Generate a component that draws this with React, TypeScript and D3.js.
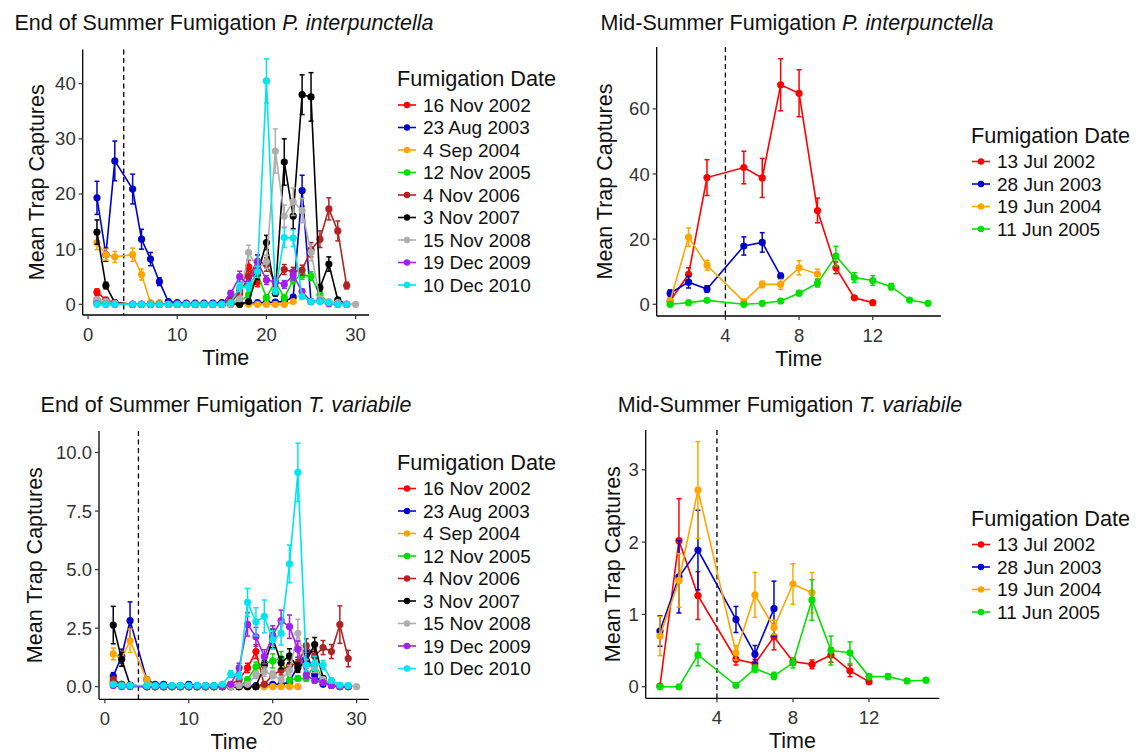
import React from "react";
import * as d3 from "d3";

// sampling times (week 4 = fumigation, no trapping)
const endTimes = [1, 2, 3, 5, 6, 7, 8, 9, 10, 11, 12, 13, 14, 15, 16, 17, 18, 19, 20, 21, 22, 23, 24, 25, 26, 27, 28, 29, 30];
const midTimes = [1, 2, 3, 5, 6, 7, 8, 9, 10, 11, 12, 13, 14, 15];

const endDates = ["16 Nov 2002", "23 Aug 2003", "4 Sep 2004", "12 Nov 2005", "4 Nov 2006", "3 Nov 2007", "15 Nov 2008", "19 Dec 2009", "10 Dec 2010"];
const midDates = ["13 Jul 2002", "28 Jun 2003", "19 Jun 2004", "11 Jun 2005"];

const endColors = ["#FF0000", "#0000CD", "#FFA500", "#00E000", "#B22222", "#000000", "#AEAEAE", "#A020F0", "#00E5EE"];
const midColors = ["#FF0000", "#0000CD", "#FFA500", "#00E000"];

// P. interpunctella, end of summer (one row per fumigation date)
const piEndMean = [
  [2.2, 0.8, 0.3, 0, 0, 0, 0, 0, 0, 0, 0, 0, 0, 0.2, 1.0, 2.5, 6.8, 4.0],
  [19.3, 9.0, 26.0, 20.9, 11.8, 8.2, 4.1, 0.5, 0.3, 0.2, 0.2, 0.2, 0.2, 0.3, 0.2, 0.1, 0.2, 0.3, 0.3, 0.4, 0.5, 1.3, 20.6, 0.5],
  [11.2, 9.0, 8.6, 9.0, 5.4, 0.3, 0.3, 0, 0, 0, 0, 0, 0, 0, 0, 0, 0, 0, 0, 0, 0, 0.5],
  [0.3, 0.1, 0.1, 0, 0, 0, 0, 0, 0, 0, 0, 0, 0, 0, 0.2, 0.5, 1.7, 5.6, 1.2, 4.1, 1.2, 4.4, 5.3, 5.1, 1.7, 0.3, 0],
  [0.8, 0.6, 0.2, 0, 0, 0, 0, 0, 0, 0, 0, 0, 0, 0, 0.5, 2.0, 5.0, 7.8, 7.2, 4.0, 6.3, 5.9, 6.2, 9.9, 11.8, 17.3, 13.3, 3.4],
  [13.1, 3.4, 0.3, 0, 0, 0, 0, 0, 0, 0, 0, 0, 0, 0, 0, 0, 0.5, 5.5, 11.2, 2.0, 25.8, 16.0, 38.0, 37.6, 3.0, 7.3, 0.8, 0],
  [0.8, 0.5, 0.2, 0, 0, 0, 0, 0, 0, 0, 0, 0, 0, 0, 0, 1.0, 9.4, 6.5, 7.7, 27.8, 16.0, 18.6, 17.0, 9.4, 1.0, 0.5, 0.3, 0.1, 0],
  [0.1, 0, 0, 0, 0, 0, 0, 0, 0, 0, 0, 0, 0, 0, 2.0, 5.0, 3.5, 7.7, 4.4, 4.1, 3.6, 5.3, 2.3, 0.5, 0.6, 0.1, 0, 0],
  [0, 0, 0, 0, 0, 0, 0, 0, 0, 0, 0, 0, 0, 0, 0.3, 3.1, 3.2, 5.9, 40.5, 2.4, 12.1, 12.0, 1.4, 0.5, 0.5, 0.3, 0, 0],
];
const piEndSe = [
  [0.6, 0.3, 0.2, 0, 0, 0, 0, 0, 0, 0, 0, 0, 0, 0.1, 0.4, 0.8, 1.2, 0.8],
  [3.0, 1.2, 3.6, 2.7, 1.8, 1.2, 0.7, 0.2, 0.1, 0.1, 0.1, 0.1, 0.1, 0.1, 0.1, 0.1, 0.1, 0.1, 0.1, 0.2, 0.2, 0.4, 2.8, 0.2],
  [1.3, 1.0, 1.0, 1.2, 1.0, 0.2, 0.1, 0, 0, 0, 0, 0, 0, 0, 0, 0, 0, 0, 0, 0, 0, 0.2],
  [0.1, 0.1, 0.1, 0, 0, 0, 0, 0, 0, 0, 0, 0, 0, 0, 0.1, 0.2, 0.5, 0.8, 0.4, 0.7, 0.4, 0.7, 0.8, 0.8, 0.5, 0.1, 0],
  [0.3, 0.2, 0.1, 0, 0, 0, 0, 0, 0, 0, 0, 0, 0, 0, 0.2, 0.6, 1.0, 1.2, 1.2, 0.8, 0.9, 0.8, 0.9, 1.3, 1.5, 2.0, 1.8, 0.6],
  [2.2, 0.6, 0.2, 0, 0, 0, 0, 0, 0, 0, 0, 0, 0, 0, 0, 0, 0.2, 1.0, 1.3, 0.5, 4.2, 2.3, 3.6, 4.4, 0.6, 1.3, 0.3, 0],
  [0.3, 0.2, 0.1, 0, 0, 0, 0, 0, 0, 0, 0, 0, 0, 0, 0, 0.4, 1.3, 1.0, 1.2, 4.0, 2.0, 2.5, 2.2, 1.5, 0.4, 0.2, 0.1, 0.1, 0],
  [0.1, 0, 0, 0, 0, 0, 0, 0, 0, 0, 0, 0, 0, 0, 0.5, 1.0, 0.8, 1.2, 0.8, 0.8, 0.7, 0.9, 0.5, 0.2, 0.2, 0.1, 0, 0],
  [0, 0, 0, 0, 0, 0, 0, 0, 0, 0, 0, 0, 0, 0, 0.1, 0.8, 0.7, 1.0, 4.0, 0.6, 1.8, 1.5, 0.4, 0.2, 0.2, 0.1, 0, 0],
];

// P. interpunctella, mid-summer
const piMidMean = [
  [1.0, 9.2, 38.9, 42.0, 38.8, 67.4, 64.8, 28.8, 11.2, 2.0, 0.5],
  [3.4, 6.8, 4.7, 17.9, 19.0, 8.7],
  [1.0, 20.6, 12.0, 0.8, 6.1, 6.1, 11.2, 9.3],
  [0, 0.5, 1.2, 0, 0.3, 1.0, 3.4, 6.5, 14.8, 8.2, 7.3, 5.4, 1.3, 0.3],
];
const piMidSe = [
  [0.8, 2.0, 5.5, 5.0, 6.0, 8.0, 7.2, 3.8, 1.8, 0.5, 0.3],
  [1.0, 1.8, 1.0, 2.8, 3.0, 0.8],
  [0.5, 2.8, 1.5, 0.5, 1.0, 1.5, 2.2, 1.5],
  [0, 0.2, 0.3, 0, 0.1, 0.3, 0.8, 1.2, 3.0, 1.5, 1.5, 1.0, 0.4, 0.1],
];

// T. variabile, end of summer
const tvEndMean = [
  [0.2, 0.1, 0.05, 0, 0, 0, 0, 0, 0, 0, 0, 0, 0, 0.1, 0.3, 0.8, 1.5, 0.05],
  [0.45, 1.3, 2.82, 0.3, 0.1, 0.1, 0.05, 0.05, 0.1, 0.05, 0.05, 0.05, 0.05, 0.05, 0.05, 0.05, 0.05, 0.05, 0.1, 0.1, 0.2, 0.9, 1.45, 0.5, 0.1],
  [1.4, 1.2, 1.96, 0.3, 0, 0, 0, 0, 0, 0, 0, 0, 0, 0, 0, 0, 0, 0, 0, 0, 0, 0],
  [0.15, 0.1, 0.05, 0, 0, 0, 0, 0, 0, 0, 0, 0, 0, 0, 0, 0.3, 0.85, 1.0, 1.1, 1.2, 0.28, 0.35, 0.35, 0.95, 0.3, 0.05],
  [0.3, 0.1, 0.05, 0, 0, 0, 0, 0, 0, 0, 0, 0, 0, 0, 0, 0, 0, 0.1, 0.5, 0.7, 0.9, 1.0, 1.75, 1.3, 1.67, 1.5, 2.65, 1.2],
  [2.63, 1.17, 0.07, 0, 0, 0, 0, 0, 0, 0, 0, 0, 0, 0, 0, 0, 0, 0.92, 2.06, 1.02, 1.32, 0.81, 1.1, 1.8, 0.36, 0.05, 0, 0],
  [0.1, 0.05, 0.05, 0, 0, 0, 0, 0, 0, 0, 0, 0, 0, 0, 0.05, 0.1, 0.5, 0.64, 0.5, 0.3, 0.7, 2.28, 0.9, 0.8, 0.3, 0.1, 0.05, 0.05, 0],
  [0.05, 0, 0, 0, 0, 0, 0, 0, 0, 0, 0, 0, 0, 0.1, 0.8, 2.66, 2.13, 1.28, 2.2, 2.82, 2.56, 1.6, 0.5, 0.26, 0.17, 0.05, 0, 0],
  [0.1, 0.05, 0.05, 0.05, 0.05, 0.05, 0.05, 0.05, 0.05, 0.05, 0.05, 0.05, 0.1, 0.54, 0.45, 3.6, 2.77, 3.0, 2.0, 2.28, 5.25, 9.15, 0.92, 1.0, 0.92, 0.26, 0.07, 0.05],
];
const tvEndSe = [
  [0.1, 0.05, 0.05, 0, 0, 0, 0, 0, 0, 0, 0, 0, 0, 0.05, 0.1, 0.2, 0.3, 0.05],
  [0.15, 0.3, 0.8, 0.1, 0.05, 0.05, 0.05, 0.05, 0.05, 0.05, 0.05, 0.05, 0.05, 0.05, 0.05, 0.05, 0.05, 0.05, 0.05, 0.05, 0.1, 0.25, 0.3, 0.15, 0.05],
  [0.25, 0.3, 0.5, 0.1, 0, 0, 0, 0, 0, 0, 0, 0, 0, 0, 0, 0, 0, 0, 0, 0, 0, 0],
  [0.05, 0.05, 0.05, 0, 0, 0, 0, 0, 0, 0, 0, 0, 0, 0, 0, 0.1, 0.2, 0.25, 0.3, 0.3, 0.1, 0.1, 0.1, 0.25, 0.1, 0.05],
  [0.1, 0.05, 0.05, 0, 0, 0, 0, 0, 0, 0, 0, 0, 0, 0, 0, 0, 0, 0.05, 0.15, 0.2, 0.25, 0.25, 0.3, 0.3, 0.3, 0.3, 0.8, 0.35],
  [0.8, 0.3, 0.05, 0, 0, 0, 0, 0, 0, 0, 0, 0, 0, 0, 0, 0, 0, 0.2, 0.4, 0.25, 0.3, 0.2, 0.3, 0.3, 0.1, 0.05, 0, 0],
  [0.05, 0.05, 0.05, 0, 0, 0, 0, 0, 0, 0, 0, 0, 0, 0, 0.05, 0.05, 0.15, 0.2, 0.15, 0.1, 0.2, 0.6, 0.25, 0.2, 0.1, 0.05, 0.05, 0.05, 0],
  [0.05, 0, 0, 0, 0, 0, 0, 0, 0, 0, 0, 0, 0, 0.05, 0.2, 0.5, 0.4, 0.3, 0.4, 0.45, 0.5, 0.35, 0.15, 0.1, 0.05, 0.05, 0, 0],
  [0.05, 0.05, 0.05, 0.05, 0.05, 0.05, 0.05, 0.05, 0.05, 0.05, 0.05, 0.05, 0.05, 0.15, 0.15, 0.6, 0.6, 0.7, 0.4, 0.5, 0.8, 1.25, 0.25, 0.3, 0.2, 0.1, 0.05, 0.05],
];

// T. variabile, mid-summer
const tvMidMean = [
  [0.01, 2.02, 1.26, 0.38, 0.32, 0.69, 0.35, 0.31, 0.44, 0.22, 0.07],
  [0.77, 1.52, 1.89, 0.93, 0.45, 1.08],
  [0.7, 1.47, 2.72, 0.47, 1.27, 0.82, 1.42, 1.3],
  [0, 0, 0.44, 0.02, 0.25, 0.15, 0.33, 1.2, 0.5, 0.47, 0.14, 0.14, 0.08, 0.09],
];
const tvMidSe = [
  [0.01, 0.58, 0.33, 0.08, 0.06, 0.18, 0.05, 0.06, 0.1, 0.08, 0.03],
  [0.21, 0.5, 0.55, 0.18, 0.12, 0.38],
  [0.27, 0.37, 0.67, 0.1, 0.31, 0.1, 0.28, 0.28],
  [0, 0, 0.15, 0.02, 0.05, 0.05, 0.07, 0.28, 0.2, 0.15, 0.04, 0.04, 0.03, 0.03],
];

const FONT = "'Liberation Sans', Arial, Helvetica, sans-serif";

type PanelProps = {
  title: string;
  species: string;
  titleX: number;
  titleY: number;
  box: [number, number, number, number]; // left, top, right, bottom
  xDomain: [number, number];
  yDomain: [number, number];
  xTicks: number[];
  yTicks: number[];
  yFmt: (v: number) => string;
  times: number[];
  means: number[][];
  ses: number[][];
  dates: string[];
  colors: string[];
  legendX: number;
  legendTitleY: number;
  yLabelX: number;
};

const Panel = (p: PanelProps) => {
  const [l, t, r, b] = p.box;
  const x = d3.scaleLinear().domain(p.xDomain).range([l, r]);
  const y = d3.scaleLinear().domain(p.yDomain).range([b, t]);
  const line = d3.line<[number, number]>().x(d => x(d[0])).y(d => y(d[1]));
  const cap = 2.5;

  return (
    <g fontFamily={FONT}>
      <text x={p.titleX} y={p.titleY} fontSize={21.5} textAnchor="middle" dominantBaseline="central" fill="#111">
        {p.title} <tspan fontStyle="italic">{p.species}</tspan>
      </text>

      {/* fumigation marker */}
      <line x1={x(4)} x2={x(4)} y1={t} y2={b} stroke="#000" strokeWidth={1.3} strokeDasharray="5,3.5" />

      {p.means.map((m, s) => {
        const pts: [number, number][] = m.map((v, i) => [p.times[i], v]);
        const se = p.ses[s];
        const c = p.colors[s];
        return (
          <g key={s}>
            {pts.map((d, i) => se[i] > 0 ? (
              <g key={i} stroke={c} strokeWidth={1.5}>
                <line x1={x(d[0])} x2={x(d[0])} y1={y(d[1] - se[i])} y2={y(d[1] + se[i])} />
                <line x1={x(d[0]) - cap} x2={x(d[0]) + cap} y1={y(d[1] - se[i])} y2={y(d[1] - se[i])} />
                <line x1={x(d[0]) - cap} x2={x(d[0]) + cap} y1={y(d[1] + se[i])} y2={y(d[1] + se[i])} />
              </g>
            ) : null)}
            <path d={line(pts) || ""} fill="none" stroke={c} strokeWidth={1.6} />
            {pts.map((d, i) => (
              <circle key={i} cx={x(d[0])} cy={y(d[1])} r={3.6} fill={c} />
            ))}
          </g>
        );
      })}

      {/* axes */}
      <line x1={l} x2={l} y1={t} y2={b} stroke="#000" strokeWidth={1.3} />
      <line x1={l} x2={r} y1={b} y2={b} stroke="#000" strokeWidth={1.3} />
      {p.yTicks.map(v => (
        <g key={v}>
          <line x1={l - 4} x2={l} y1={y(v)} y2={y(v)} stroke="#333" strokeWidth={1.2} />
          <text x={l - 7} y={y(v)} fontSize={18.5} textAnchor="end" dominantBaseline="central" fill="#333">{p.yFmt(v)}</text>
        </g>
      ))}
      {p.xTicks.map(v => (
        <g key={v}>
          <line x1={x(v)} x2={x(v)} y1={b} y2={b + 4} stroke="#333" strokeWidth={1.2} />
          <text x={x(v)} y={b + 19} fontSize={18.5} textAnchor="middle" dominantBaseline="central" fill="#333">{v}</text>
        </g>
      ))}
      <text x={(l + r) / 2} y={b + 43} fontSize={21.5} textAnchor="middle" dominantBaseline="central" fill="#111">Time</text>
      <text transform={`translate(${p.yLabelX},${(t + b) / 2}) rotate(-90)`} fontSize={21.5} textAnchor="middle" dominantBaseline="central" fill="#111">
        Mean Trap Captures
      </text>

      {/* legend */}
      <text x={p.legendX - 1} y={p.legendTitleY} fontSize={21.7} dominantBaseline="central" fill="#111">Fumigation Date</text>
      {p.dates.map((d, i) => {
        const ly = p.legendTitleY + 26.5 + i * 22.5;
        return (
          <g key={d}>
            <line x1={p.legendX} x2={p.legendX + 18} y1={ly} y2={ly} stroke={p.colors[i]} strokeWidth={1.6} />
            <circle cx={p.legendX + 9} cy={ly} r={3.2} fill={p.colors[i]} />
            <text x={p.legendX + 25} y={ly} fontSize={19} dominantBaseline="central" fill="#111">{d}</text>
          </g>
        );
      })}
    </g>
  );
};

const App = () => {
  const f0 = (v: number) => String(v);
  const f1 = d3.format(".1f");
  return (
    <svg width={1137} height={753} style={{ position: "absolute", left: 0, top: 0, background: "#fff" }}>
      <Panel
        title="End of Summer Fumigation" species="P. interpunctella" titleX={224} titleY={23}
        box={[82.7, 49.5, 369, 315]} xDomain={[-0.6, 31.5]} yDomain={[-1.94, 46.2]}
        xTicks={[0, 10, 20, 30]} yTicks={[0, 10, 20, 30, 40]} yFmt={f0}
        times={endTimes} means={piEndMean} ses={piEndSe} dates={endDates} colors={endColors}
        legendX={398} legendTitleY={78.5} yLabelX={36.7}
      />
      <Panel
        title="Mid-Summer Fumigation" species="P. interpunctella" titleX={797} titleY={23}
        box={[656.7, 47, 940.9, 316]} xDomain={[0.27, 15.7]} yDomain={[-3.6, 79]}
        xTicks={[4, 8, 12]} yTicks={[0, 20, 40, 60]} yFmt={f0}
        times={midTimes} means={piMidMean} ses={piMidSe} dates={midDates} colors={midColors}
        legendX={972} legendTitleY={135} yLabelX={605}
      />
      <Panel
        title="End of Summer Fumigation" species="T. variabile" titleX={226} titleY={405}
        box={[99, 431, 368.8, 699.3]} xDomain={[-0.7, 31.45]} yDomain={[-0.54, 10.92]}
        xTicks={[0, 10, 20, 30]} yTicks={[0, 2.5, 5, 7.5, 10]} yFmt={f1}
        times={endTimes} means={tvEndMean} ses={tvEndSe} dates={endDates} colors={endColors}
        legendX={398} legendTitleY={462} yLabelX={35}
      />
      <Panel
        title="Mid-Summer Fumigation" species="T. variabile" titleX={790} titleY={405}
        box={[645.7, 430, 939.3, 698.3]} xDomain={[0.25, 15.7]} yDomain={[-0.16, 3.55]}
        xTicks={[4, 8, 12]} yTicks={[0, 1, 2, 3]} yFmt={f0}
        times={midTimes} means={tvMidMean} ses={tvMidSe} dates={midDates} colors={midColors}
        legendX={972} legendTitleY={518} yLabelX={613}
      />
    </svg>
  );
};

export default App;
